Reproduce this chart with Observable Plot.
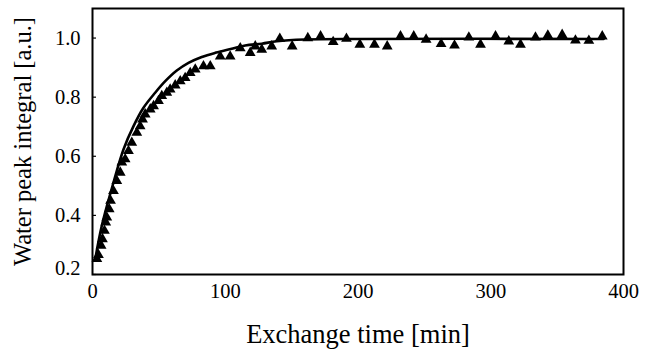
<!DOCTYPE html>
<html>
<head>
<meta charset="utf-8">
<script src="https://cdn.jsdelivr.net/npm/d3@7"></script>
<script src="https://cdn.jsdelivr.net/npm/@observablehq/plot@0.6"></script>
<style>
  html, body { margin: 0; padding: 0; background: #fff; }
  #chart svg, #chart svg text, #chart svg g { font-family: 'Liberation Serif', 'Times New Roman', serif !important; }
  #chart svg g[aria-label="x-axis tick label"], #chart svg g[aria-label="x-axis tick label"] text,
  #chart svg g[aria-label="y-axis tick label"], #chart svg g[aria-label="y-axis tick label"] text { font-size: 20.5px !important; }
  #chart svg g[aria-label="x-axis label"], #chart svg g[aria-label="x-axis label"] text { font-size: 26.5px !important; }
  #chart svg g[aria-label="y-axis label"], #chart svg g[aria-label="y-axis label"] text { font-size: 24.5px !important; }
</style>
</head>
<body>
<div id="chart"></div>
<script>
// Measured triangles
const pointTime = [3.3, 4.5, 6.5, 7.5, 9, 10, 10.8, 12.6, 13.6, 15.8, 18.3, 20.9, 22.1, 24.6, 27.1, 29.6,
  33.4, 35.9, 37.7, 39.7, 43.5, 46, 49.7, 52.2, 56, 58.5, 62.3, 66.1, 69.8, 73.6, 77.4, 83.6, 88.7,
  96.2, 103.7, 111.3, 118.8, 122.6, 127.5, 135, 141.1, 150.4, 162.2, 171.8, 181.3, 191.3, 201.4,
  212.4, 222, 232, 242, 251.3, 262.6, 272.7, 283.5, 292.3, 303.6, 313.6, 322.4, 333.7, 343, 353.8,
  363.8, 373.9, 384];
const pointValue = [0.253, 0.266, 0.298, 0.32, 0.348, 0.376, 0.393, 0.421, 0.45, 0.483, 0.517, 0.545, 0.579, 0.59, 0.618, 0.646,
  0.68, 0.702, 0.725, 0.742, 0.759, 0.77, 0.787, 0.804, 0.815, 0.826, 0.84, 0.854, 0.865, 0.882, 0.894, 0.905, 0.905,
  0.938, 0.938, 0.966, 0.95, 0.972, 0.961, 0.972, 0.998, 0.972, 1.0, 1.006, 0.987, 0.998, 0.978,
  0.978, 0.972, 1.006, 1.006, 0.995, 0.98, 0.975, 1.002, 0.978, 1.006, 0.989, 0.978, 1.002, 1.009, 1.011,
  0.992, 0.991, 1.006];

// Fitted curve
const fitTime = [2, 7, 15.8, 23.4, 30.9, 38.4, 47.2, 54.8, 63.5, 72.3, 82.3, 92.4, 102.4, 115, 127.5, 138.8, 160, 200, 385];
const fitValue = [0.25, 0.365, 0.511, 0.624, 0.702, 0.764, 0.815, 0.854, 0.89, 0.916, 0.936, 0.95, 0.961, 0.975, 0.981, 0.989, 0.995, 0.997, 0.997];

const xTicks = [0, 100, 200, 300, 400];
const yTicks = [0.2, 0.4, 0.6, 0.8, 1.0];
const xLabel = "Exchange time [min]";
const yLabel = "Water peak integral [a.u.]";

const points = pointTime.map((t, i) => ({t, v: pointValue[i]}));
const fit = fitTime.map((t, i) => ({t, v: fitValue[i]}));

const serif = "'Liberation Serif', 'Times New Roman', serif";

const chart = Plot.plot({
  width: 651,
  height: 356,
  marginLeft: 92,
  marginRight: 28,
  marginTop: 8,
  marginBottom: 82,
  x: {domain: [0, 400]},
  y: {domain: [0.2, 1.1]},
  style: {fontFamily: serif, fontSize: "20.5px", color: "black", background: "white"},
  marks: [
    Plot.ruleY(yTicks, {y: d => d, x1: 0, x2: 3, stroke: "black", strokeWidth: 1.2}),
    Plot.axisX({ticks: xTicks, tickSize: 0, tickPadding: 9, tickFormat: d => String(d), fontSize: 20.5, fontFamily: serif,
      label: xLabel, labelAnchor: "center", labelOffset: 68, labelArrow: "none"}),
    Plot.axisY({ticks: yTicks.slice(1), tickSize: 0, tickPadding: 12, tickFormat: d => d.toFixed(1), fontSize: 20.5, fontFamily: serif,
      label: yLabel, labelAnchor: "center", labelOffset: 79, labelArrow: "none"}),
    Plot.axisY({ticks: yTicks.slice(0, 1), tickSize: 0, tickPadding: 12, dy: -6, tickFormat: d => d.toFixed(1), fontSize: 20.5, fontFamily: serif,
      label: null}),
    Plot.line(fit, {x: "t", y: "v", curve: "catmull-rom", stroke: "black", strokeWidth: 2.6}),
    Plot.dot(points, {x: "t", y: "v", symbol: "triangle", r: 4, fill: "black", stroke: "none"}),
    Plot.frame({stroke: "black", strokeWidth: 2})
  ]
});
document.getElementById("chart").appendChild(chart);
</script>
</body>
</html>
